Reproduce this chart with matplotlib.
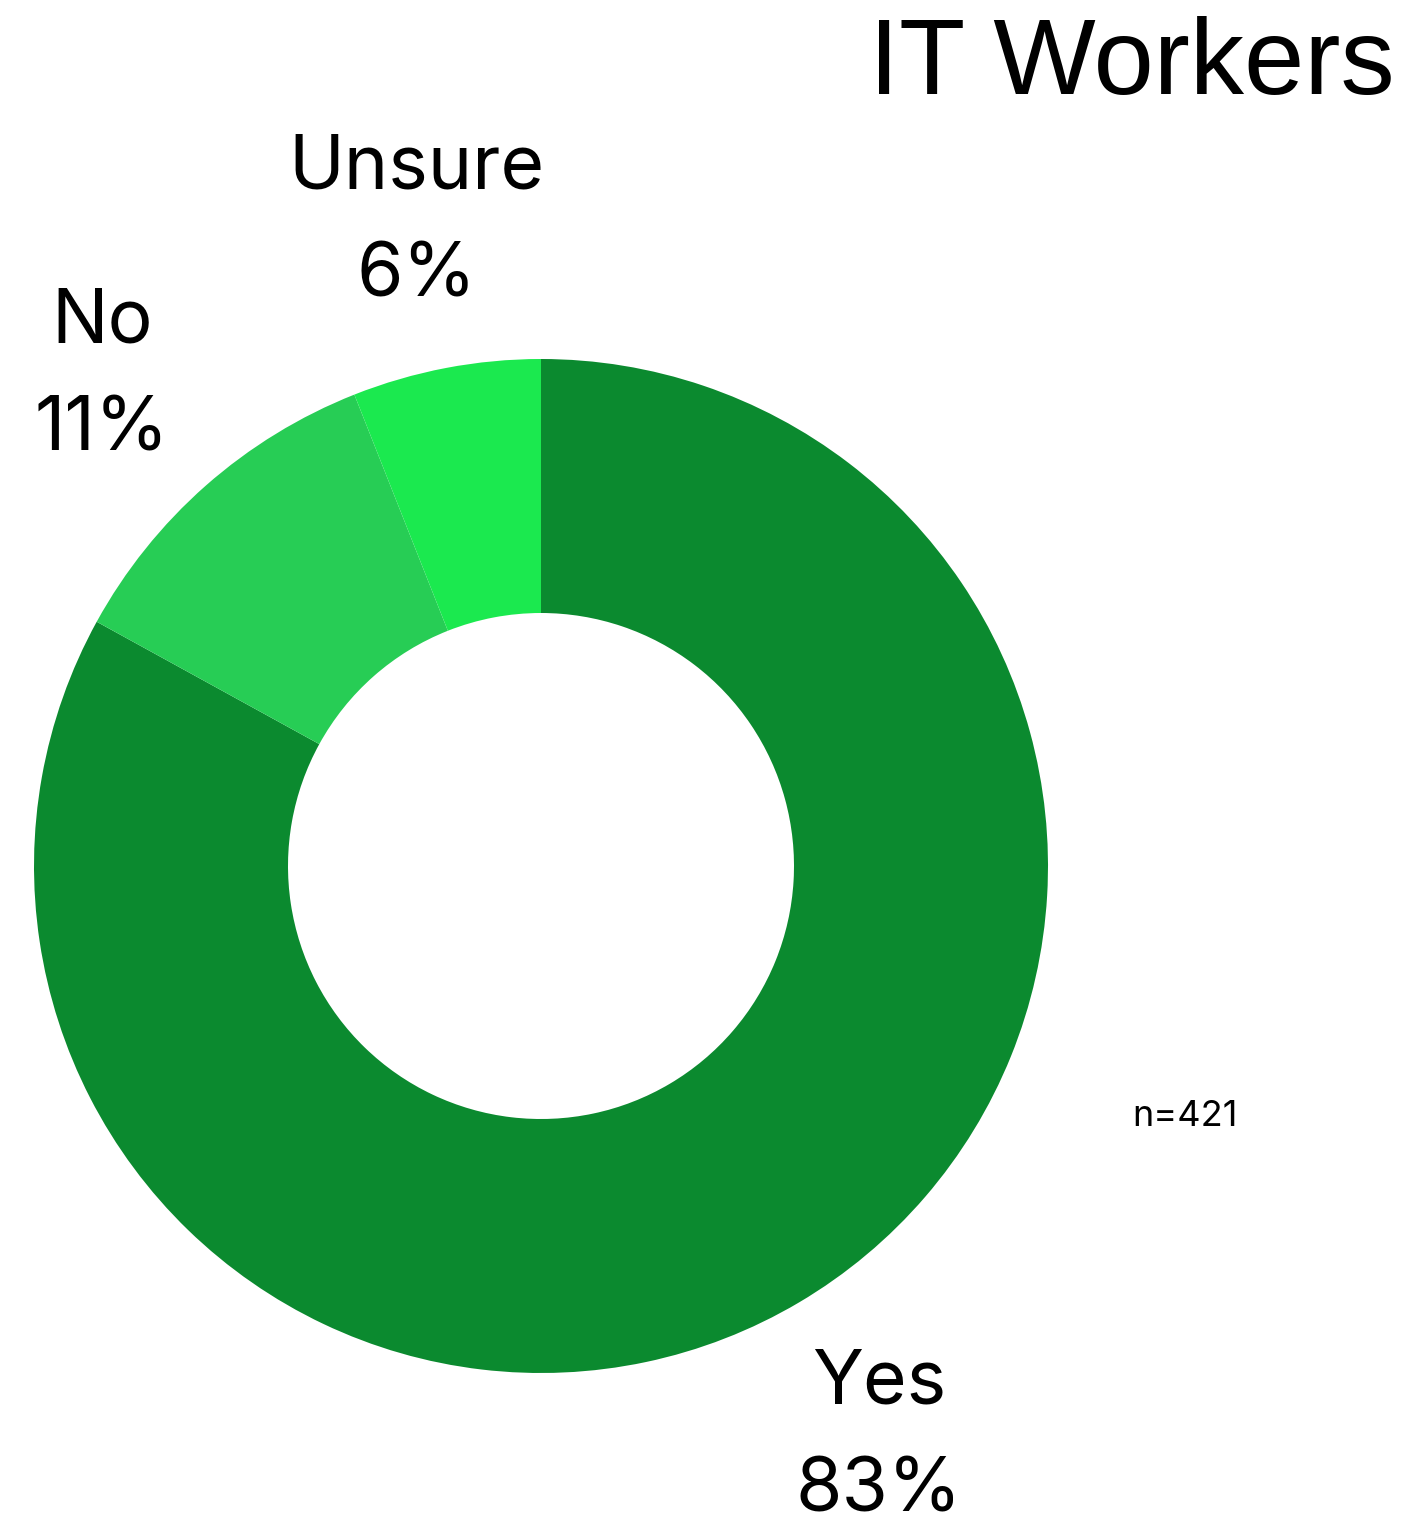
import matplotlib.pyplot as plt

# survey answers, IT workers
answers = ["Yes", "No", "Unsure"]
shares = [83, 11, 6]
colors = ["#0b8a2f", "#27cd55", "#1be94f"]
sample_size = 421

W, H = 1426, 1527
fig = plt.figure(figsize=(W / 100, H / 100), dpi=100)
ax = fig.add_axes([0, 0, 1, 1])
ax.set_xlim(0, W)
ax.set_ylim(0, H)
ax.set_aspect("equal")
ax.axis("off")

labels = [f"{a}\n{s}%" for a, s in zip(answers, shares)]
wedges, texts = ax.pie(
    shares, colors=colors, labels=labels, startangle=90, counterclock=False,
    center=(541, H - 866), radius=507, labeldistance=1.31,
    wedgeprops=dict(width=254, linewidth=0),
    textprops=dict(fontsize=54, family="Inter", linespacing=1.67,
                   ha="center", va="center"),
)
# nudge the upper labels down a bit (the bottom one is already at the edge)
for t in texts[1:]:
    x, y = t.get_position()
    t.set_position((x, y - 9))
ax.set_xlim(0, W)
ax.set_ylim(0, H)

fig.text(1395 / W, 1 - 66 / H, "IT Workers", fontsize=78, family="Liberation Sans",
         ha="right", va="center")
fig.text(1185 / W, 1 - 1117 / H, f"n={sample_size}", fontsize=26, family="Inter",
         ha="center", va="center")

fig.savefig("out.png", dpi=100)
